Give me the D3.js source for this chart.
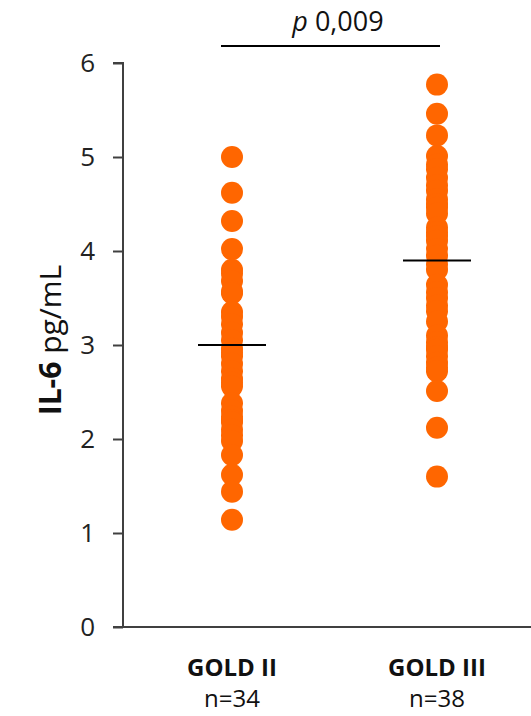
<!DOCTYPE html>
<html><head><meta charset="utf-8">
<script src="https://cdn.jsdelivr.net/npm/d3@7"></script>
<style>body{margin:0;background:#fff}svg{display:block}</style>
</head><body>
<svg id="c" width="531" height="716"></svg>
<script>
const categories = ["GOLD II", "GOLD III"];
const counts = ["n=34", "n=38"];
const goldII = [5.0, 4.62, 4.32, 4.02, 3.80, 3.76, 3.68, 3.57, 3.55, 3.35, 3.30, 3.22, 3.13, 3.05, 2.96, 2.92, 2.88, 2.80, 2.72, 2.64, 2.60, 2.56, 2.38, 2.30, 2.24, 2.20, 2.18, 2.10, 2.04, 1.98, 1.83, 1.62, 1.44, 1.14];
const goldIII = [5.77, 5.46, 5.23, 5.01, 4.92, 4.87, 4.78, 4.70, 4.64, 4.55, 4.50, 4.46, 4.40, 4.25, 4.20, 4.16, 4.11, 4.02, 3.95, 3.86, 3.80, 3.64, 3.56, 3.50, 3.42, 3.36, 3.25, 3.10, 3.03, 2.98, 2.95, 2.88, 2.81, 2.76, 2.72, 2.51, 2.12, 1.60];
const centerLines = [3.0, 3.9];
const yTicks = [0, 1, 2, 3, 4, 5, 6];
const pLabel = "0,009";

const svg = d3.select("#c");
const x = d3.scalePoint().domain(categories).range([232, 437]);
const y = d3.scaleLinear().domain([0, 6]).range([627, 63]);
const font = "'Open Sans', 'Noto Sans', sans-serif";

// axis
const ax = svg.append("g").attr("transform", "translate(123,0)")
  .call(d3.axisLeft(y).tickValues(yTicks).tickSize(10).tickPadding(18).tickFormat(d3.format("d")));
ax.select(".domain").attr("stroke", "#404040").attr("stroke-width", 2).attr("d", "M-10,63H0V627");
ax.selectAll(".tick line").attr("stroke", "#404040").attr("stroke-width", 2);
ax.selectAll(".tick text").attr("fill", "#222").style("font-family", font).style("font-size", "26px");

// baseline
svg.append("line").attr("x1", 113).attr("x2", 531).attr("y1", y(0)).attr("y2", y(0))
  .attr("stroke", "#404040").attr("stroke-width", 2);

// dots
const series = [goldII, goldIII];
series.forEach((vals, i) => {
  svg.append("g").selectAll("circle").data(vals).join("circle")
    .attr("cx", x(categories[i])).attr("cy", d => y(d)).attr("r", 11)
    .attr("fill", "#FF6600");
});

// center lines
svg.append("g").selectAll("line").data(centerLines).join("line")
  .attr("x1", (d, i) => x(categories[i]) - 34).attr("x2", (d, i) => x(categories[i]) + 34)
  .attr("y1", d => y(d)).attr("y2", d => y(d))
  .attr("stroke", "#000").attr("stroke-width", 2);

// category labels
svg.append("g").selectAll("text").data(categories).join("text")
  .attr("x", d => x(d)).attr("y", 676).attr("text-anchor", "middle")
  .style("font-family", font).style("font-weight", "bold").style("font-size", "24px")
  .attr("fill", "#111").text(d => d);
svg.append("g").selectAll("text").data(counts).join("text")
  .attr("x", (d, i) => x(categories[i])).attr("y", 707).attr("text-anchor", "middle")
  .style("font-family", font).style("font-size", "24px")
  .attr("fill", "#111").text(d => d);

// y title
const yt = svg.append("text").attr("transform", "translate(61,340) rotate(-90)")
  .attr("text-anchor", "middle").style("font-family", font).style("font-size", "30px").attr("fill", "#111");
yt.append("tspan").style("font-weight", "bold").text("IL-6");
yt.append("tspan").text(" pg/mL");

// significance bracket
svg.append("line").attr("x1", 221).attr("x2", 440).attr("y1", 46).attr("y2", 46)
  .attr("stroke", "#000").attr("stroke-width", 2);
const pt = svg.append("text").attr("x", 338).attr("y", 31).attr("text-anchor", "middle")
  .style("font-family", font).style("font-size", "27px").attr("fill", "#111");
pt.append("tspan").style("font-style", "italic").text("p");
pt.append("tspan").text(" " + pLabel);
</script>
</body></html>
